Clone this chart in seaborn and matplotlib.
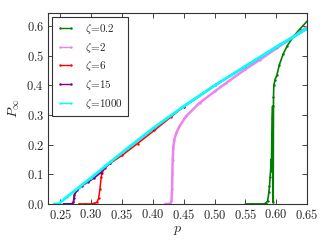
import numpy as np
import pandas as pd
import matplotlib
matplotlib.use("Agg")
import matplotlib.pyplot as plt
import seaborn as sns
from matplotlib.ticker import FuncFormatter, MultipleLocator

# values
p_02 = [0.55, 0.56, 0.57, 0.575, 0.58, 0.583, 0.586, 0.588, 0.589, 0.590, 0.591, 0.5915,
        0.592, 0.5925, 0.593, 0.5935, 0.594, 0.595, 0.5955, 0.596, 0.598, 0.601, 0.605,
        0.611, 0.618, 0.628, 0.638, 0.65]
P_02 = [0.0, 0.0, 0.0, 0.0, 0.0, 0.003, 0.01, 0.04, 0.06, 0.09, 0.12, 0.15,
        0.11, 0.18, 0.24, 0.29, 0.33, 0.005, 0.36, 0.40, 0.42, 0.435, 0.47,
        0.505, 0.535, 0.566, 0.59, 0.617]

p_2 = [0.42, 0.425, 0.428, 0.430, 0.431, 0.4315, 0.432, 0.433, 0.4346, 0.438, 0.443,
       0.4537, 0.4755, 0.50, 0.519, 0.55, 0.5735, 0.60, 0.617, 0.65]
P_2 = [0.0, 0.0, 0.0, 0.01, 0.05, 0.10, 0.15, 0.19, 0.217, 0.24, 0.262,
       0.296, 0.341, 0.38, 0.409, 0.455, 0.487, 0.525, 0.549, 0.598]

p_6 = [0.28, 0.29, 0.30, 0.305, 0.309, 0.312, 0.314, 0.316, 0.3175, 0.322, 0.331,
       0.35, 0.375, 0.402, 0.43, 0.45, 0.50, 0.55, 0.60, 0.65]
P_6 = [0.0, 0.0, 0.0, 0.002, 0.005, 0.02, 0.05, 0.09, 0.105, 0.122, 0.138,
       0.164, 0.204, 0.248, 0.295, 0.329, 0.40, 0.465, 0.53, 0.592]

p_15 = [0.255, 0.262, 0.268, 0.271, 0.272, 0.2725, 0.2767, 0.285, 0.295, 0.304, 0.315,
        0.33, 0.36, 0.40, 0.45, 0.50, 0.55, 0.60, 0.65]
P_15 = [0.0, 0.0, 0.0, 0.005, 0.02, 0.031, 0.046, 0.062, 0.075, 0.087, 0.106,
        0.139, 0.189, 0.254, 0.329, 0.40, 0.465, 0.53, 0.592]

p_1000 = [0.24, 0.247, 0.26, 0.28, 0.30, 0.33, 0.36, 0.40, 0.45, 0.50, 0.55, 0.60, 0.65]
P_1000 = [0.0, 0.0, 0.023, 0.056, 0.089, 0.14, 0.19, 0.255, 0.33, 0.40, 0.465, 0.53, 0.592]

labels = [r'$\zeta\!=\!0.2$', r'$\zeta\!=\!2$', r'$\zeta\!=\!6$', r'$\zeta\!=\!15$', r'$\zeta\!=\!1000$']
colors = ['green', 'violet', 'red', 'purple', 'cyan']
series = [(p_02, P_02), (p_2, P_2), (p_6, P_6), (p_15, P_15), (p_1000, P_1000)]
widths = [1.2, 1.8, 1.1, 1.4, 2.0]

sns.set_style("ticks")
plt.rcParams['mathtext.fontset'] = 'cm'
plt.rcParams['font.family'] = ['DejaVu Serif']

fig = plt.figure(figsize=(3.32, 2.49), dpi=100)
ax = fig.add_axes([0.145, 0.181, 0.78, 0.767])

for (px, py), lab, col, lw in zip(series, labels, colors, widths):
    df = pd.DataFrame({'p': px, 'P': py})
    sns.lineplot(data=df, x='p', y='P', ax=ax, color=col, label=lab, lw=lw,
                 marker='.', markersize=3.5, markeredgewidth=0,
                 sort=False, estimator=None)

ax.set_xlim(0.23, 0.65)
ax.set_ylim(0, 0.645)
ax.xaxis.set_major_locator(MultipleLocator(0.05))
ax.yaxis.set_major_locator(MultipleLocator(0.1))
ax.xaxis.set_major_formatter(FuncFormatter(lambda v, _: r'$%.2f$' % v))
ax.yaxis.set_major_formatter(FuncFormatter(lambda v, _: r'$%.1f$' % v))
ax.tick_params(direction='in', top=True, right=True, labelsize=9, length=3.5, width=0.6, pad=3)
for s in ax.spines.values():
    s.set_linewidth(0.8)
    s.set_color('#333333')
ax.set_xlabel(r'$p$', fontsize=10, labelpad=1)
ax.set_ylabel(r'$P_\infty$', fontsize=10, labelpad=3)

leg = ax.legend(loc='upper left', fontsize=8, numpoints=2, fancybox=False,
                edgecolor='#333333', framealpha=1, handlelength=1.6,
                borderpad=0.45, labelspacing=0.42, borderaxespad=0.35, handletextpad=0.9)
leg.get_frame().set_linewidth(0.8)
for h in leg.get_lines():
    h.set_linewidth(1.0)

fig.savefig('out.png', dpi=100)
